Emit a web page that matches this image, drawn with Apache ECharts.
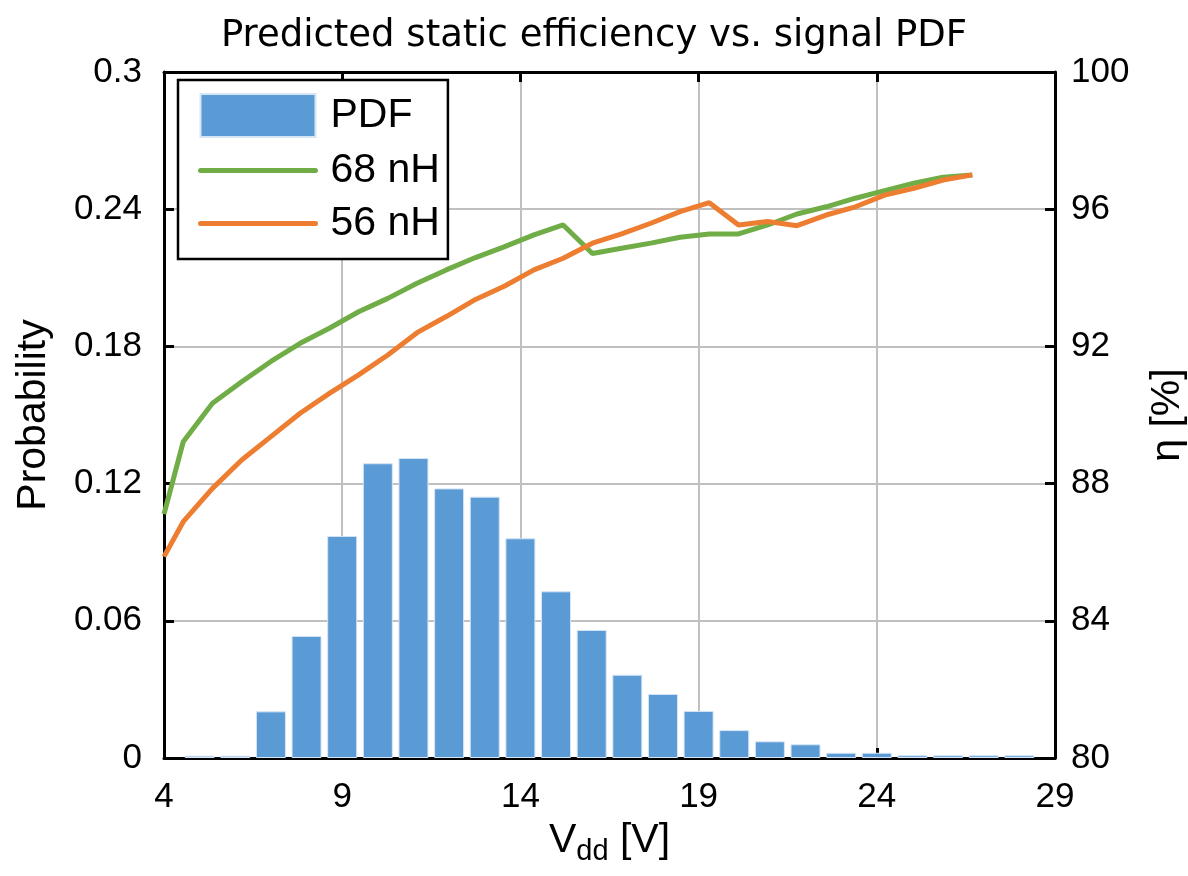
<!DOCTYPE html>
<html>
<head>
<meta charset="utf-8">
<script src="https://cdn.jsdelivr.net/npm/echarts@6/dist/echarts.min.js"></script>
<style>
html, body { margin: 0; padding: 0; background: #fff; }
#chart { width: 1188px; height: 876px; }
</style>
</head>
<body>
<div id="chart"></div>
<script>
// PDF histogram bins (Vdd in V) and probability
var binVdd = [5, 6, 7, 8, 9, 10, 11, 12, 13, 14, 15, 16, 17, 18, 19, 20, 21, 22, 23, 24, 25, 26, 27, 28];
var pdf = [0.001, 0.001, 0.0204, 0.0534, 0.0971, 0.1289, 0.1312, 0.1179, 0.1143, 0.0961, 0.0729, 0.056,
    0.0364, 0.028, 0.0206, 0.0122, 0.0073, 0.006, 0.0023, 0.0023, 0.0012, 0.0012, 0.0012, 0.0012];

// efficiency curves
var vdd = [4, 4.54, 5.36, 6.18, 7.0, 7.82, 8.64, 9.46, 10.28, 11.1, 11.92, 12.74, 13.56, 14.38, 15.2,
    16.02, 16.84, 17.66, 18.48, 19.3, 20.12, 20.94, 21.76, 22.58, 23.4, 24.22, 25.04, 25.86, 26.68];
var eff68 = [87.11, 89.22, 90.34, 90.97, 91.56, 92.09, 92.53, 93.01, 93.40, 93.84, 94.23, 94.59, 94.91, 95.25, 95.54,
    94.71, 94.86, 95.01, 95.18, 95.28, 95.28, 95.54, 95.86, 96.07, 96.32, 96.54, 96.76, 96.93, 97.0];
var eff56 = [85.87, 86.89, 87.86, 88.69, 89.37, 90.05, 90.63, 91.17, 91.75, 92.40, 92.87, 93.37, 93.76, 94.23, 94.57,
    95.01, 95.28, 95.59, 95.93, 96.19, 95.54, 95.64, 95.52, 95.83, 96.07, 96.41, 96.61, 96.85, 97.0];

function zip(a, b) {
    var out = [];
    for (var i = 0; i < a.length; i++) out.push([a[i], b[i]]);
    return out;
}

var font = "'Liberation Sans', Arial, sans-serif";
// hide the legend marker circle, keep the line
var noMarker = { color: 'rgba(0,0,0,0)', borderWidth: 0, opacity: 0 };

var chart = echarts.init(document.getElementById('chart'));
var option = {
    animation: false,
    title: {
        text: 'Predicted static efficiency vs. signal PDF',
        left: 'center',
        top: 13,
        textStyle: { fontFamily: "'DejaVu Sans', sans-serif", fontSize: 37, fontWeight: 'normal', color: '#000' }
    },
    grid: { left: 164, right: 133, top: 72, bottom: 118, outerBoundsMode: 'none' },
    legend: {
        left: 178,
        top: 80,
        orient: 'vertical',
        itemWidth: 115,
        itemHeight: 43,
        itemGap: 12,
        padding: [13, 8, 15, 20],
        borderColor: '#000',
        borderWidth: 2.5,
        backgroundColor: '#fff',
        textStyle: { fontFamily: font, fontSize: 41, color: '#000', padding: [0, 0, 0, 10] },
        data: [
            { name: 'PDF', icon: 'rect' },
            { name: '68 nH', itemStyle: noMarker, lineStyle: { width: 5, cap: 'round' } },
            { name: '56 nH', itemStyle: noMarker, lineStyle: { width: 5, cap: 'round' } }
        ]
    },
    xAxis: [{
        type: 'value',
        min: 4,
        max: 29,
        interval: 5,
        name: '{v|V}{s|dd}{v| [V]}',
        nameLocation: 'middle',
        nameGap: 48,
        nameTextStyle: {
            rich: {
                v: { fontFamily: font, fontSize: 41, color: '#000', lineHeight: 44, verticalAlign: 'top' },
                s: { fontFamily: font, fontSize: 29, color: '#000', lineHeight: 36, padding: [18, 0, 0, 0], verticalAlign: 'top' }
            }
        },
        axisLine: { lineStyle: { color: '#000', width: 3 } },
        axisTick: { inside: true, length: 10, lineStyle: { color: '#000', width: 3 } },
        axisLabel: { fontFamily: font, fontSize: 35, color: '#000', margin: 22 },
        splitLine: { lineStyle: { color: '#c0c0c0', width: 2 } }
    }, {
        type: 'value',
        position: 'top',
        min: 4,
        max: 29,
        interval: 5,
        axisLine: { lineStyle: { color: '#000', width: 3 } },
        axisTick: { inside: true, length: 10, lineStyle: { color: '#000', width: 3 } },
        axisLabel: { show: false },
        splitLine: { show: false }
    }],
    yAxis: [{
        type: 'value',
        min: 0,
        max: 0.3,
        interval: 0.06,
        name: 'Probability',
        nameLocation: 'middle',
        nameGap: 110,
        nameTextStyle: { fontFamily: font, fontSize: 41, color: '#000' },
        axisLine: { show: true, lineStyle: { color: '#000', width: 3 } },
        axisTick: { show: true, inside: true, length: 10, lineStyle: { color: '#000', width: 3 } },
        axisLabel: {
            fontFamily: font, fontSize: 35, color: '#000', margin: 22,
            formatter: function (v) { return String(parseFloat(v.toFixed(2))); }
        },
        splitLine: { lineStyle: { color: '#c0c0c0', width: 2 } }
    }, {
        type: 'value',
        min: 80,
        max: 100,
        interval: 4,
        position: 'right',
        name: 'η [%]',
        nameLocation: 'middle',
        nameRotate: 90,
        nameGap: 92,
        nameTextStyle: { fontFamily: font, fontSize: 41, color: '#000' },
        axisLine: { show: true, lineStyle: { color: '#000', width: 3 } },
        axisTick: { show: true, inside: true, length: 10, lineStyle: { color: '#000', width: 3 } },
        axisLabel: { fontFamily: font, fontSize: 35, color: '#000', margin: 16 },
        splitLine: { show: false }
    }],
    series: [{
        name: 'PDF',
        type: 'bar',
        xAxisIndex: 0,
        yAxisIndex: 0,
        barWidth: 30,
        itemStyle: { color: '#5b9bd5', borderColor: '#d6e5f5', borderWidth: 1 },
        data: zip(binVdd, pdf)
    }, {
        name: '68 nH',
        type: 'line',
        xAxisIndex: 0,
        yAxisIndex: 1,
        showSymbol: false,
        symbol: 'none',
        lineStyle: { color: '#70ad47', width: 5 },
        itemStyle: { color: '#70ad47' },
        data: zip(vdd, eff68)
    }, {
        name: '56 nH',
        type: 'line',
        xAxisIndex: 0,
        yAxisIndex: 1,
        showSymbol: false,
        symbol: 'none',
        lineStyle: { color: '#ed7d31', width: 5 },
        itemStyle: { color: '#ed7d31' },
        data: zip(vdd, eff56)
    }]
};
chart.setOption(option);
</script>
</body>
</html>
